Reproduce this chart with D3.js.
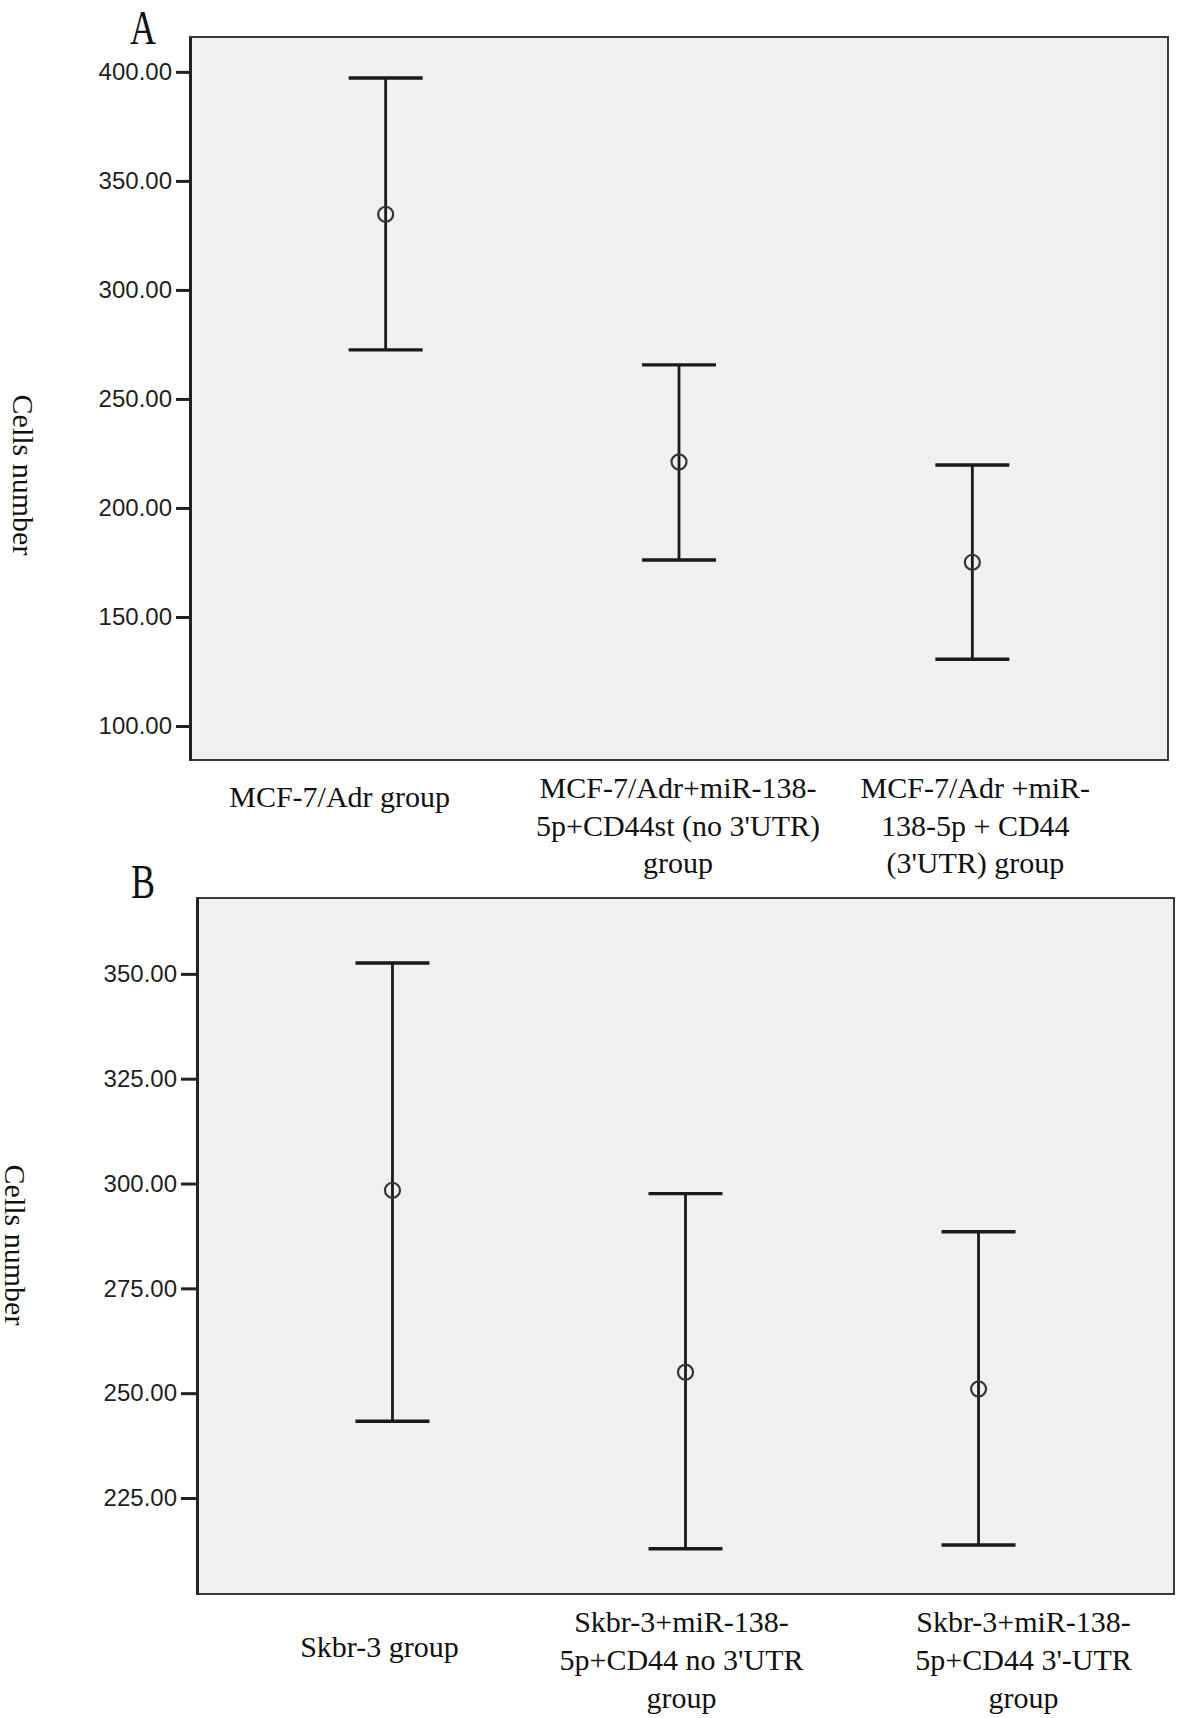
<!DOCTYPE html>
<html>
<head>
<meta charset="utf-8">
<script src="https://cdn.jsdelivr.net/npm/d3@7"></script>
<style>
  html, body { margin: 0; padding: 0; background: #ffffff; }
  svg { display: block; }
</style>
</head>
<body>
<script>
// ---------- DATA ----------
const groupsA = ["A1", "A2", "A3"];
const labelLinesA = [
  ["MCF-7/Adr group"],
  ["MCF-7/Adr+miR-138-", "5p+CD44st (no 3'UTR)", "group"],
  ["MCF-7/Adr +miR-", "138-5p + CD44", "(3'UTR) group"]
];
const meanA  = [334.7, 221.1, 175.1];
const lowerA = [272.5, 176.1, 130.6];
const upperA = [397.2, 265.6, 219.7];
const ticksA = [100, 150, 200, 250, 300, 350, 400];

const groupsB = ["B1", "B2", "B3"];
const labelLinesB = [
  ["Skbr-3 group"],
  ["Skbr-3+miR-138-", "5p+CD44 no 3'UTR", "group"],
  ["Skbr-3+miR-138-", "5p+CD44 3'-UTR", "group"]
];
const meanB  = [298.4, 255.0, 251.0];
const lowerB = [243.3, 212.9, 213.8];
const upperB = [352.6, 297.6, 288.5];
const ticksB = [225, 250, 275, 300, 325, 350];

const yTitle = "Cells number";

// ---------- LAYOUT ----------
const W = 1180, H = 1718;
const svg = d3.select("body").append("svg").attr("width", W).attr("height", H);

const serif = "'Liberation Serif', 'Times New Roman', Times, serif";
const sans = "'Liberation Sans', Arial, Helvetica, sans-serif";

const panels = [
  {
    letter: "A", letterPos: [130, 44],
    groups: groupsA, lines: labelLinesA, mean: meanA, lower: lowerA, upper: upperA, ticks: ticksA,
    x0: 190, x1: 1168, y0: 37, y1: 760, domain: [84.4, 416.0], tickLen: 14,
    labelDx: [-46, -1, 3], labelY1: [807, 798, 798], lineH: 37.5,
    titlePos: [13, 475]
  },
  {
    letter: "B", letterPos: [131, 898],
    groups: groupsB, lines: labelLinesB, mean: meanB, lower: lowerB, upper: upperB, ticks: ticksB,
    x0: 197, x1: 1174, y0: 898, y1: 1594, domain: [202.1, 368.1], tickLen: 16,
    labelDx: [-13, -4, 45], labelY1: [1657, 1632, 1632], lineH: 38,
    titlePos: [5, 1245]
  }
];

panels.forEach(p => {
  const g = svg.append("g");
  const x = d3.scalePoint().domain(p.groups).range([p.x0, p.x1]).padding(0.667);
  const y = d3.scaleLinear().domain(p.domain).range([p.y1, p.y0]);

  // plot area
  g.append("rect")
    .attr("x", p.x0).attr("y", p.y0)
    .attr("width", p.x1 - p.x0).attr("height", p.y1 - p.y0)
    .attr("fill", "#f0f0f0")
    .attr("stroke", "#3a3a3a").attr("stroke-width", 2);

  // y axis
  const axis = d3.axisLeft(y)
    .tickValues(p.ticks)
    .tickFormat(d3.format(".2f"))
    .tickSize(p.tickLen)
    .tickSizeOuter(0)
    .tickPadding(4);
  const ag = g.append("g").attr("transform", `translate(${p.x0},0)`).call(axis);
  ag.select(".domain").attr("stroke", "#222").attr("stroke-width", 3);
  ag.selectAll(".tick line").attr("stroke", "#222").attr("stroke-width", 3);
  ag.selectAll(".tick text")
    .attr("fill", "#1e1e1e")
    .style("font-family", sans)
    .style("font-size", "24px");

  // error bars
  const idx = d3.range(p.groups.length);
  const capHalf = 37;
  const bars = g.append("g");
  bars.selectAll("line.stem").data(idx).join("line")
    .attr("class", "stem")
    .attr("x1", i => x(p.groups[i])).attr("x2", i => x(p.groups[i]))
    .attr("y1", i => y(p.upper[i])).attr("y2", i => y(p.lower[i]))
    .attr("stroke", "#1a1a1a").attr("stroke-width", 2.8);
  bars.selectAll("line.capu").data(idx).join("line")
    .attr("class", "capu")
    .attr("x1", i => x(p.groups[i]) - capHalf).attr("x2", i => x(p.groups[i]) + capHalf)
    .attr("y1", i => y(p.upper[i])).attr("y2", i => y(p.upper[i]))
    .attr("stroke", "#1a1a1a").attr("stroke-width", 3.4);
  bars.selectAll("line.capl").data(idx).join("line")
    .attr("class", "capl")
    .attr("x1", i => x(p.groups[i]) - capHalf).attr("x2", i => x(p.groups[i]) + capHalf)
    .attr("y1", i => y(p.lower[i])).attr("y2", i => y(p.lower[i]))
    .attr("stroke", "#1a1a1a").attr("stroke-width", 3.4);
  bars.selectAll("circle").data(idx).join("circle")
    .attr("cx", i => x(p.groups[i])).attr("cy", i => y(p.mean[i]))
    .attr("r", 7.5)
    .attr("fill", "none")
    .attr("stroke", "#333").attr("stroke-width", 2.2);

  // category labels
  idx.forEach(i => {
    const t = g.append("text")
      .attr("text-anchor", "middle")
      .style("font-family", serif)
      .style("font-size", "30px")
      .attr("fill", "#111");
    p.lines[i].forEach((ln, k) => {
      t.append("tspan")
        .attr("x", x(p.groups[i]) + p.labelDx[i])
        .attr("y", p.labelY1[i] + k * p.lineH)
        .text(ln);
    });
  });

  // y title
  g.append("text")
    .attr("transform", `translate(${p.titlePos[0]},${p.titlePos[1]}) rotate(90)`)
    .attr("text-anchor", "middle")
    .style("font-family", serif)
    .style("font-size", "30px")
    .attr("fill", "#111")
    .text(yTitle);

  // panel letter
  g.append("text")
    .attr("transform", `translate(${p.letterPos[0]},${p.letterPos[1]}) scale(0.9,1.2)`)
    .style("font-family", serif)
    .style("font-size", "40px")
    .attr("fill", "#111")
    .text(p.letter);
});
</script>
</body>
</html>
